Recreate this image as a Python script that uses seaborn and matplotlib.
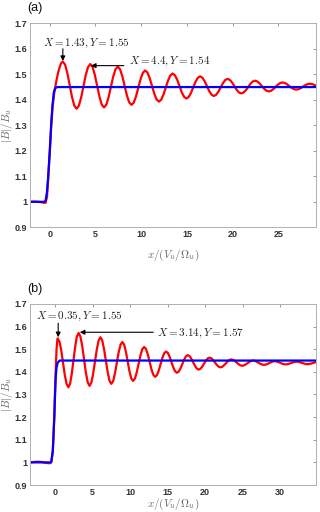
import numpy as np
import pandas as pd
import seaborn as sns
import matplotlib
matplotlib.use('Agg')
import matplotlib.pyplot as plt

# ---- panel (a) data ----
xa_red = [-2.15, -1.75, -1.25, -1.0, -0.75, -0.45, -0.3, -0.17, 0.0, 0.15, 0.3, 0.5, 0.7, 0.9, 1.1, 1.25, 1.43,
          1.68, 1.93, 2.18, 2.43, 2.68, 2.93, 3.18, 3.43, 3.68, 3.93, 4.18, 4.43,
          4.68, 4.93, 5.18, 5.43, 5.68, 5.93, 6.18, 6.43, 6.68, 6.93, 7.18, 7.43,
          7.68, 7.93, 8.18, 8.43, 8.68, 8.93, 9.18, 9.43, 9.68, 9.93, 10.18, 10.43,
          10.68, 10.93, 11.18, 11.43, 11.68, 11.93, 12.18, 12.43, 12.68, 12.93, 13.18, 13.43,
          13.68, 13.93, 14.18, 14.43, 14.68, 14.93, 15.18, 15.43, 15.68, 15.93, 16.18, 16.43,
          16.68, 16.93, 17.18, 17.43, 17.68, 17.93, 18.18, 18.43, 18.68, 18.93, 19.18, 19.43,
          19.68, 19.93, 20.18, 20.43, 20.68, 20.93, 21.18, 21.43, 21.68, 21.93, 22.18, 22.43,
          22.68, 22.93, 23.18, 23.43, 23.68, 23.93, 24.18, 24.43, 24.68, 24.93, 25.18, 25.43,
          25.68, 25.93, 26.18, 26.43, 26.68, 26.93, 27.18, 27.43, 27.68, 27.93, 28.18, 28.43,
          28.68, 28.93, 29.18]
ya_red = [1.0, 1.001, 1.0, 0.999, 0.997, 0.996, 1.02, 1.09, 1.19, 1.29, 1.37, 1.43, 1.47, 1.505, 1.53, 1.544, 1.55,
          1.5376, 1.5037, 1.4575, 1.4112, 1.3774, 1.365,
          1.3767, 1.4088, 1.4525, 1.4963, 1.5283, 1.540,
          1.5286, 1.4975, 1.455, 1.4125, 1.3814, 1.370,
          1.3807, 1.410, 1.450, 1.490, 1.5193, 1.530,
          1.520, 1.4925, 1.455, 1.4175, 1.390, 1.380,
          1.389, 1.4138, 1.4475, 1.4813, 1.506, 1.515,
          1.5068, 1.4845, 1.454, 1.4235, 1.4012, 1.393,
          1.4004, 1.4205, 1.448, 1.4755, 1.4956, 1.503,
          1.4964, 1.4785, 1.454, 1.4295, 1.4116, 1.405,
          1.4108, 1.4268, 1.4485, 1.4703, 1.4862, 1.492,
          1.4868, 1.4727, 1.4535, 1.4342, 1.4202, 1.415,
          1.4195, 1.4318, 1.4485, 1.4653, 1.4775, 1.482,
          1.4782, 1.4677, 1.4535, 1.4392, 1.4288, 1.425,
          1.4284, 1.4375, 1.450, 1.4625, 1.4717, 1.475,
          1.4722, 1.4645, 1.454, 1.4435, 1.4358, 1.433,
          1.4353, 1.4418, 1.4505, 1.4593, 1.4657, 1.468,
          1.4661, 1.461, 1.454, 1.447, 1.4419, 1.440,
          1.4415, 1.4458, 1.4515, 1.4573, 1.4615, 1.463,
          1.4617, 1.4582, 1.4545]
xa_blue = [-2.15, -0.6, -0.45, -0.3, -0.17, 0.0, 0.15, 0.3, 0.45, 0.6, 0.8, 29.18]
ya_blue = [1.0, 1.0, 1.005, 1.04, 1.1, 1.2, 1.3, 1.38, 1.43, 1.445, 1.45, 1.45]

# ---- panel (b) data ----
xb_red = [-3.33, -2.8, -2.3, -1.8, -1.4, -1.0, -0.7, -0.5, -0.3, -0.1, 0.0, 0.1, 0.2, 0.3, 0.35,
          0.59, 0.83, 1.07, 1.30, 1.54, 1.78,
          2.01, 2.23, 2.46, 2.69, 2.91, 3.14,
          3.38, 3.63, 3.87, 4.11, 4.36, 4.60,
          4.84, 5.08, 5.33, 5.57, 5.81, 6.05,
          6.29, 6.53, 6.78, 7.02, 7.26, 7.50,
          7.75, 7.99, 8.24, 8.48, 8.73, 8.97,
          9.21, 9.45, 9.69, 9.92, 10.16, 10.40,
          10.65, 10.89, 11.14, 11.39, 11.63, 11.88,
          12.13, 12.37, 12.62, 12.86, 13.11, 13.35,
          13.59, 13.83, 14.08, 14.32, 14.56, 14.80,
          15.04, 15.28, 15.53, 15.77, 16.01, 16.25,
          16.49, 16.73, 16.98, 17.22, 17.46, 17.70,
          17.94, 18.18, 18.43, 18.67, 18.91, 19.15,
          19.39, 19.63, 19.88, 20.12, 20.36, 20.60,
          20.84, 21.08, 21.33, 21.57, 21.81, 22.05,
          22.29, 22.53, 22.78, 23.02, 23.26, 23.50,
          23.74, 23.98, 24.23, 24.47, 24.71, 24.95,
          25.19, 25.43, 25.68, 25.92, 26.16, 26.40,
          26.64, 26.88, 27.13, 27.37, 27.61, 27.85,
          28.09, 28.33, 28.58, 28.82, 29.06, 29.30,
          29.54, 29.78, 30.03, 30.27, 30.51, 30.75,
          30.99, 31.23, 31.48, 31.72, 31.96, 32.20,
          32.44, 32.68, 32.93, 33.17, 33.41, 33.65,
          33.89, 34.13, 34.38, 34.62, 34.86, 35.10]
yb_red = [1.0, 1.002, 1.003, 1.002, 0.999, 0.997, 0.996, 1.0, 1.05, 1.2, 1.32, 1.42, 1.5, 1.54, 1.548,
          1.5335, 1.494, 1.44, 1.386, 1.3465, 1.332,
          1.3481, 1.392, 1.452, 1.512, 1.5559, 1.572,
          1.5563, 1.5135, 1.455, 1.3965, 1.3537, 1.338,
          1.3524, 1.3918, 1.4455, 1.4993, 1.5386, 1.553,
          1.5392, 1.5015, 1.45, 1.3985, 1.3608, 1.347,
          1.3594, 1.3933, 1.4395, 1.4858, 1.5196, 1.532,
          1.5205, 1.489, 1.446, 1.403, 1.3715, 1.36,
          1.37, 1.3975, 1.435, 1.4725, 1.50, 1.51,
          1.5012, 1.477, 1.444, 1.411, 1.3868, 1.378,
          1.3855, 1.406, 1.434, 1.462, 1.4825, 1.49,
          1.4837, 1.4665, 1.443, 1.4195, 1.4023, 1.396,
          1.4012, 1.4155, 1.435, 1.4545, 1.4688, 1.474,
          1.4697, 1.458, 1.442, 1.426, 1.4143, 1.41,
          1.4136, 1.4233, 1.4365, 1.4498, 1.4594, 1.463,
          1.4601, 1.4522, 1.4415, 1.4307, 1.4229, 1.42,
          1.4223, 1.4288, 1.4375, 1.4463, 1.4527, 1.455,
          1.4531, 1.448, 1.441, 1.434, 1.4289, 1.427,
          1.4285, 1.4328, 1.4385, 1.4443, 1.4485, 1.45,
          1.4487, 1.4452, 1.4405, 1.4357, 1.4323, 1.431,
          1.4321, 1.435, 1.439, 1.443, 1.4459, 1.447,
          1.4461, 1.4435, 1.44, 1.4365, 1.4339, 1.433,
          1.4338, 1.436, 1.439, 1.442, 1.4442, 1.445,
          1.4443, 1.4422, 1.4395, 1.4367, 1.4347, 1.434,
          1.4347, 1.4365, 1.439, 1.4415, 1.4433, 1.444]
xb_blue = [-3.33, -0.6, -0.5, -0.3, -0.1, 0.0, 0.1, 0.2, 0.35, 0.6, 34.8]
yb_blue = [1.0, 1.0, 1.003, 1.05, 1.2, 1.3, 1.38, 1.42, 1.44, 1.45, 1.45]

# annotations: text, text pos, arrow tail, arrow head
notes_a = [('$X = 1.43, Y = 1.55$', (-0.72, 1.622), (1.43, 1.600), (1.43, 1.552)),
           ('$X = 4.4, Y = 1.54$', (8.62, 1.552), (8.1, 1.534), (4.5, 1.534))]
notes_b = [('$X = 0.35, Y = 1.55$', (-2.53, 1.646), (0.42, 1.615), (0.42, 1.553)),
           ('$X = 3.14, Y = 1.57$', (13.56, 1.572), (13.1, 1.575), (3.3, 1.575))]

yticks = [0.9, 1.0, 1.1, 1.2, 1.3, 1.4, 1.5, 1.6, 1.7]
ytick_labels = ['0.9', '1', '1.1', '1.2', '1.3', '1.4', '1.5', '1.6', '1.7']

sns.set_style('white')
plt.rcParams['mathtext.fontset'] = 'cm'
plt.rcParams['font.family'] = ['Liberation Sans', 'DejaVu Sans']

fig = plt.figure(figsize=(3.2, 5.12), dpi=100)
ax_a = fig.add_axes([0.094, 0.556, 0.8935, 0.3985])
ax_b = fig.add_axes([0.094, 0.0527, 0.8935, 0.3536])

panels = [
    (ax_a, xa_red, ya_red, xa_blue, ya_blue, notes_a, (-2.15, 29.1), [0, 5, 10, 15, 20, 25], '(a)', 0.984, 6),
    (ax_b, xb_red, yb_red, xb_blue, yb_blue, notes_b, (-3.33, 34.8), [0, 5, 10, 15, 20, 25, 30], '(b)', 0.436, 0),
]

for ax, xr, yr, xbl, ybl, notes, xlim, xticks, tag, tag_y, pad in panels:
    sns.lineplot(x=xr, y=yr, color='#ff0000', lw=1.6, sort=False, estimator=None, ax=ax)
    sns.lineplot(x=xbl, y=ybl, color='#0000ff', lw=1.6, sort=False, estimator=None, ax=ax)
    for txt, tpos, tail, head in notes:
        ax.annotate('', xy=head, xytext=tail,
                    arrowprops=dict(arrowstyle='-|>', color='k', lw=0.8, mutation_scale=7,
                                    shrinkA=0, shrinkB=0))
        ax.text(tpos[0], tpos[1], txt, fontsize=8, va='center', ha='left', color='#222222')
    ax.set_xlim(*xlim)
    ax.set_ylim(0.9, 1.7)
    ax.set_xticks(xticks)
    ax.set_xticklabels([str(t) for t in xticks])
    ax.set_yticks(yticks)
    ax.set_yticklabels(ytick_labels)
    ax.tick_params(direction='in', length=2.5, width=0.6, color='#888888', top=True, right=True,
                   labelsize=6.5, labelcolor='#333333', pad=2)
    for lbl in ax.get_xticklabels() + ax.get_yticklabels():
        lbl.set_fontweight('bold')
    for sp in ax.spines.values():
        sp.set_color('#b0b0b0')
        sp.set_linewidth(0.7)
    ax.set_xlabel(r'$x/(V_u/\Omega_u)$', fontsize=8, color='#666666', labelpad=pad)
    ax.set_ylabel(r'$|B|/B_u$', fontsize=8, color='#666666')
    ax.yaxis.set_label_coords(-0.052, 0.5)
    fig.text(0.084, tag_y, tag, fontsize=9, va='center', ha='left', color='#111111')

fig.savefig('out.png', dpi=100)
